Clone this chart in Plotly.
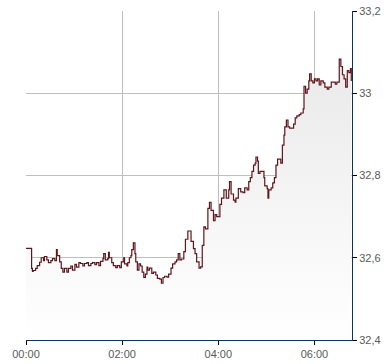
import pandas as pd
import plotly.graph_objects as go

# minutes after 00:00 and price values (step line)
minutes = [0, 7, 8, 9, 12, 14, 17, 19, 22, 23, 26, 28, 31, 33, 36, 38, 39, 42, 44, 46,
           48, 51, 53, 56, 58, 61, 63, 66, 68, 71, 73, 76, 78, 81, 83, 86, 88, 91, 93, 96,
           97, 99, 102, 103, 104, 107, 109, 112, 114, 117, 119, 122, 123, 126, 127, 129, 131, 132, 134, 136,
           137, 139, 141, 143, 145, 147, 149, 151, 152, 154, 157, 159, 162, 164, 167, 169, 171, 173, 176, 178,
           181, 183, 186, 188, 190, 192, 194, 197, 199, 202, 204, 206, 209, 211, 213, 216, 218, 220, 222, 224,
           227, 229, 231, 234, 236, 238, 241, 242, 244, 247, 250, 253, 254, 256, 259, 261, 262, 265, 268, 271,
           273, 276, 278, 280, 282, 284, 286, 287, 289, 290, 292, 294, 297, 298, 301, 302, 303, 306, 308, 310,
           312, 314, 317, 318, 320, 322, 323, 325, 327, 329, 332, 334, 336, 338, 341, 343, 346, 347, 349, 351,
           353, 354, 356, 358, 360, 362, 364, 366, 368, 371, 373, 376, 378, 381, 383, 386, 388, 391, 393, 395,
           397, 399, 401, 403, 405, 406]
prices = [32.623, 32.574, 32.567, 32.569, 32.574, 32.581, 32.589, 32.600, 32.593, 32.603,
          32.595, 32.588, 32.593, 32.598, 32.593, 32.620, 32.605, 32.590, 32.574, 32.565,
          32.574, 32.565, 32.574, 32.580, 32.570, 32.584, 32.577, 32.588, 32.586, 32.580,
          32.586, 32.588, 32.581, 32.586, 32.588, 32.583, 32.588, 32.581, 32.591, 32.598,
          32.610, 32.595, 32.598, 32.613, 32.600, 32.588, 32.581, 32.576, 32.581, 32.576,
          32.590, 32.600, 32.585, 32.580, 32.588, 32.600, 32.605, 32.620, 32.636, 32.610,
          32.590, 32.570, 32.585, 32.580, 32.565, 32.552, 32.560, 32.577, 32.570, 32.575,
          32.562, 32.565, 32.558, 32.550, 32.548, 32.538, 32.552, 32.555, 32.553, 32.560,
          32.575, 32.585, 32.590, 32.595, 32.610, 32.595, 32.597, 32.615, 32.645, 32.665,
          32.665, 32.640, 32.622, 32.610, 32.590, 32.575, 32.578, 32.630, 32.675, 32.670,
          32.720, 32.735, 32.715, 32.690, 32.705, 32.700, 32.700, 32.730, 32.745, 32.765,
          32.745, 32.765, 32.785, 32.755, 32.740, 32.735, 32.745, 32.768, 32.760, 32.758,
          32.770, 32.765, 32.785, 32.795, 32.810, 32.825, 32.830, 32.845, 32.835, 32.805,
          32.810, 32.810, 32.795, 32.775, 32.768, 32.745, 32.765, 32.770, 32.782, 32.795,
          32.825, 32.840, 32.840, 32.830, 32.874, 32.898, 32.918, 32.935, 32.918, 32.915,
          32.915, 32.925, 32.940, 32.945, 32.948, 32.952, 32.962, 33.017, 33.000, 33.010,
          33.030, 33.047, 33.030, 33.025, 33.035, 33.030, 33.035, 33.020, 33.030, 33.025,
          33.015, 33.010, 33.015, 33.027, 33.027, 33.022, 33.027, 33.083, 33.065, 33.045,
          33.035, 33.015, 33.055, 33.050, 33.060, 33.030]

y_tickvals = [32.4, 32.6, 32.8, 33.0, 33.2]
y_ticktext = ["32,4", "32,6", "32,8", "33", "33,2"]
x_ticklabels = ["00:00", "02:00", "04:00", "06:00"]

base = pd.Timestamp("2024-01-01 00:00")
times = [base + pd.Timedelta(minutes=m) for m in minutes]
x_tickvals = [base + pd.Timedelta(hours=2 * i) for i in range(len(x_ticklabels))]
x_end = base + pd.Timedelta(minutes=406.9)

fig = go.Figure()
fig.add_trace(go.Scatter(
    x=times, y=prices, mode="lines", line=dict(color="#5e161c", width=1.2, shape="hv"),
    fill="tozeroy",
    fillgradient=dict(type="vertical", start=32.4, stop=33.2,
                      colorscale=[[0, "#ffffff"], [1, "#e6e6e6"]]),
    hoverinfo="skip", showlegend=False,
))

fig.update_layout(
    width=390, height=364,
    margin=dict(l=26, r=38, t=11, b=24, autoexpand=False),
    paper_bgcolor="white", plot_bgcolor="white",
    font=dict(family="Liberation Sans, Arial, sans-serif", size=11, color="#5a5a5a"),
    showlegend=False,
)
fig.update_xaxes(
    type="date", range=[base, x_end], automargin=False,
    tickvals=x_tickvals, ticktext=x_ticklabels,
    showgrid=True, gridcolor="#bfbfbf", gridwidth=1,
    showline=True, linecolor="#12305f", linewidth=1,
    ticks="outside", ticklen=4, tickcolor="#000000", tickwidth=1,
    zeroline=False,
)
fig.update_yaxes(
    side="right", range=[32.4, 33.2], automargin=False,
    tickvals=y_tickvals, ticktext=y_ticktext,
    showgrid=True, gridcolor="#bfbfbf", gridwidth=1,
    showline=True, linecolor="#12305f", linewidth=1,
    ticks="outside", ticklen=4, tickcolor="#000000", tickwidth=1,
    zeroline=False,
)

fig.write_html("out.html", config={"displayModeBar": False},
               post_script="document.body.style.margin='0';document.body.style.padding='0';")
